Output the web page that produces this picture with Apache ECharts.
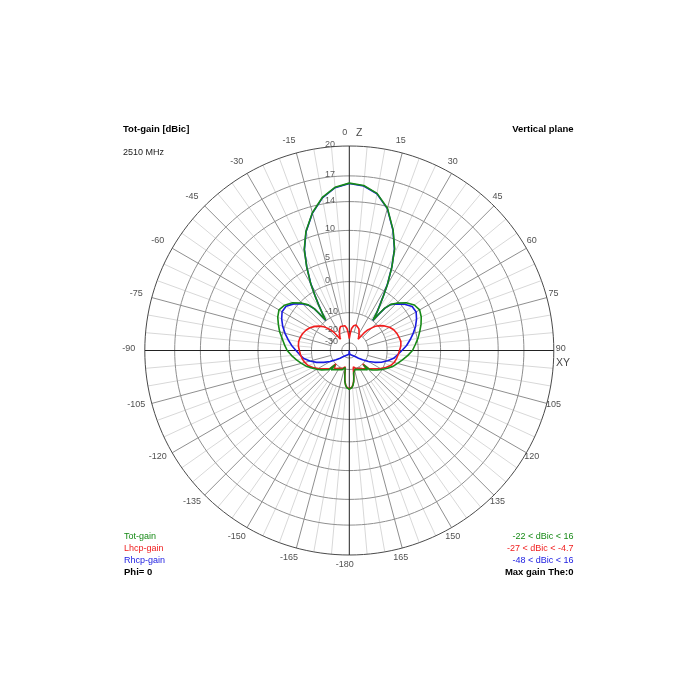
<!DOCTYPE html>
<html>
<head>
<meta charset="utf-8">
<script src="https://cdn.jsdelivr.net/npm/echarts@6/dist/echarts.min.js"></script>
<style>
html,body{margin:0;padding:0;background:#fff;}
#chart{width:700px;height:700px;}
</style>
</head>
<body>
<div id="chart"></div>
<script>
// ---------------- data ----------------
const angleTicks = [-180,-165,-150,-135,-120,-105,-90,-75,-60,-45,-30,-15,0,15,30,45,60,75,90,105,120,135,150,165];
const angleTickLabels = ['-180','-165','-150','-135','-120','-105','-90','-75','-60','-45','-30','-15','0','15','30','45','60','75','90','105','120','135','150','165'];
const ringValues = [20,17,14,10,5,0,-10,-20,-30];
const ringLabels = ['20','17','14','10','5','0','-10','-20','-30'];

const totAngles = [-180,-178,-176,-174,-172,-171,-170,-169,-168,-166,-163,-160,-155,-150,-145,-140,-137,-135,-133,-130,-125,-120,-115,-110,-105,-100,-95,-90,-85,-80,-75,-70,-65,-60,-55,-50,-45,-42,-40,-39,-38,-36,-34,-32,-30,-27,-24,-20,-15,-10,-5,0,5,10,15,20,24,27,30,32,34,36,38,39,40,42,45,50,55,60,65,70,75,80,85,90,95,100,105,110,115,120,125,130,133,135,137,140,145,150,155,160,163,166,168,169,170,171,172,174,176,178,180];
const totGain = [-9.6,-9.8,-10.3,-11.2,-12.8,-14.2,-15.8,-17.5,-19.5,-21.0,
  -19.5,-19.1,-18.6,-18.1,-17.2,-16.3,-15.4,-19.2,-14.6,-13.6,
  -11.8,-10.1,-8.5,-6.9,-5.6,-4.3,-3.0,-1.8,-1.0,-0.2,
  0.8,1.6,2.4,2.9,2.4,1.3,-0.5,-2.0,-4.0,-6.5,
  -9.8,-7.0,-4.0,-1.0,2.0,5.5,8.5,11.0,13.2,14.8,
  15.8,16.2,
  16.0,15.3,13.8,11.2,8.6,5.5,1.8,-1.2,-4.0,-6.5,
  -9.8,-6.5,-3.8,-1.8,-0.5,1.3,2.5,2.9,2.5,1.8,
  1.0,0.2,-0.7,-1.5,-2.8,-4.2,-5.5,-6.7,-8.3,-10.0,
  -11.7,-13.5,-14.6,-19.2,-15.4,-16.3,-17.2,-18.1,-18.6,-19.1,
  -19.5,-21.0,-19.5,-17.5,-15.8,-14.2,-12.8,-11.2,-10.3,-9.8,
  -9.6];

const lhcpAngles = [-180,-178,-176,-174,-172,-171,-170,-169,-168,-166,-163,-160,-155,-150,-145,-140,-137,-135,-133,-130,-125,-120,-115,-110,-105,-100,-95,-90,-85,-80,-75,-70,-65,-60,-55,-51,-47,-45,-42,-40,-38,-35,-32,-28,-24,-20,-15,-10,-6,-3,0,3,6,10,15,20,24,28,32,35,38,40,42,45,47,51,55,60,65,70,75,80,85,90,95,100,105,110,115,120,125,130,133,135,137,140,145,150,155,160,163,166,168,169,170,171,172,174,176,178,180];
const lhcpGain = [-9.8,-10.0,-10.5,-11.4,-13.0,-14.4,-16.0,-17.7,-19.8,-21.5,
  -20.3,-19.9,-19.4,-18.9,-18.0,-17.1,-16.2,-20.0,-15.4,-14.4,
  -12.6,-10.8,-9.0,-7.6,-6.8,-6.2,-5.8,-5.5,-5.1,-5.0,
  -5.2,-5.6,-6.2,-7.0,-8.3,-9.6,-11.3,
  -12.6,-14.8,-17.5,-23.5,-22.0,-20.5,-18.8,-17.0,-15.9,-15.5,-16.2,-18.0,-21.5,
  -25.5,
  -21.5,-18.0,-16.2,-15.5,-15.9,-17.0,-18.8,-20.5,-22.0,-23.5,-17.5,-14.8,-12.6,-11.0,-9.3,
  -8.0,-6.7,-5.8,-5.3,-5.0,-4.7,-4.9,-5.4,-5.8,-6.2,-6.7,-7.6,-9.0,-10.8,-12.6,-14.4,
  -15.4,-20.0,-16.2,-17.1,-18.0,-18.9,-19.4,-19.9,-20.3,-21.5,
  -19.8,-17.7,-16.0,-14.4,-13.0,-11.4,-10.5,-10.0,-9.8];

const rhcpAngles = [-180,-179,-176,-170,-160,-150,-140,-135,-130,-125,-120,-115,-110,-105,-100,-95,-90,-85,-80,-75,-70,-65,-60,-55,-50,-45,-42,-40,-39,-38,-36,-34,-32,-30,-27,-24,-20,-15,-10,-5,0,5,10,15,20,24,27,30,32,34,36,38,39,40,42,45,50,55,60,65,70,75,80,85,90,95,100,105,110,115,120,125,130,135,140,150,160,170,176,179,180];
const rhcpGain = [-48,-38,-35,-34.5,-33.5,-32.5,-30.5,-28.5,-25.5,-22,
  -18,-14.5,-11.3,-8.8,-6.8,-5.6,-4.4,-3.0,-1.8,-0.6,
  0.5,1.4,2.1,2.0,0.9,-0.8,-2.1,-4.1,-6.6,-9.85,
  -7.05,-4.05,-1.05,1.95,5.45,8.45,10.95,13.15,14.75,15.75,
  16.15,
  15.95,15.25,13.75,11.15,8.55,5.45,1.75,-1.25,-4.05,-6.55,
  -9.85,-6.6,-3.9,-1.9,-0.8,0.8,1.9,2.0,1.3,0.4,
  -0.7,-1.9,-3.1,-4.6,-6.0,-7.2,-9.2,-11.6,-14.6,-18.0,
  -22.0,-25.5,-28.5,-30.5,-32.5,-33.5,-34.5,-35,-38,-48];

// ---------------- scale & layout ----------------
// modified logarithmic radial scale used by the plot: dB -> radius fraction (20 dB = outer ring)
function rScale(db){ return Math.max(0, 1.0491*Math.exp(0.05*(db-20)) - 0.0491); }
const CX = 349.3, CY = 350.5, R_OUT = 204.5, RMAX = 1.06;
const LABEL_R = 216/R_OUT;
const SANS = "'Liberation Sans',Arial,sans-serif";
const GREEN = '#178a17', RED = '#f01e1e', BLUE = '#1a1ae0';

function pairs(angles, vals){ return angles.map((a,i)=>[rScale(vals[i]), a]); }
function gridLine(data, color, w, z){
  return {type:'line', coordinateSystem:'polar', data:data, symbol:'none', silent:true,
    animation:false, clip:false, z:z||1, lineStyle:{color:color, width:w||1}};
}

const series = [];
// minor radial lines (every 5 deg)
for (let a=-175; a<=180; a+=5){
  if (a % 15 === 0) continue;
  series.push(gridLine([[rScale(-10), a],[1, a]], '#d8d8d8', 1, 1));
}
// major radial lines (every 15 deg)
angleTicks.forEach(a=>{
  if (a===0 || a===90 || a===-90 || a===-180) return;
  series.push(gridLine([[rScale(-20), a],[1, a]], '#8f8f8f', 1, 2));
});
// rings
ringValues.forEach(v=>{
  const d=[]; for(let a=-180;a<=180;a+=2) d.push([rScale(v), a]);
  series.push(gridLine(d, v===20 ? '#4a4a4a' : '#8f8f8f', 1, v===20?3:2));
});
// main axes
series.push(gridLine([[1,0],[1,180]], '#222', 1, 3));
series.push(gridLine([[1,-90],[1,90]], '#222', 1, 3));

// ring labels
series.push({type:'scatter', coordinateSystem:'polar', silent:true, animation:false, z:6,
  symbolSize:1, itemStyle:{color:'rgba(0,0,0,0)'},
  data: ringValues.map(v=>[rScale(v), 0]),
  label:{show:true, position:'inside', align:'left', verticalAlign:'middle', offset:[-24.3,-1.5],
    formatter:p=>ringLabels[p.dataIndex], color:'#333', fontSize:9, fontFamily:SANS}
});
// angle labels
series.push({type:'scatter', coordinateSystem:'polar', silent:true, animation:false, z:6,
  symbolSize:1, itemStyle:{color:'rgba(0,0,0,0)'},
  data: angleTicks.map(a=>[LABEL_R, a]),
  label:{show:true, position:'inside', align:'center', verticalAlign:'middle', offset:[-4.5,-1.5],
    formatter:p=>angleTickLabels[p.dataIndex], color:'#222', fontSize:9, fontFamily:SANS}
});
// axis names
series.push({type:'scatter', coordinateSystem:'polar', silent:true, animation:false, z:6,
  symbolSize:1, itemStyle:{color:'rgba(0,0,0,0)'},
  data: [[LABEL_R, 0]],
  label:{show:true, position:'inside', align:'center', verticalAlign:'middle', offset:[10,-1.5],
    formatter:'Z', color:'#111', fontSize:10.5, fontFamily:SANS}
});
series.push({type:'scatter', coordinateSystem:'polar', silent:true, animation:false, z:6,
  symbolSize:1, itemStyle:{color:'rgba(0,0,0,0)'},
  data: [[LABEL_R, 90]],
  label:{show:true, position:'inside', align:'center', verticalAlign:'middle', offset:[-2.3,12.2],
    formatter:'XY', color:'#111', fontSize:10.5, fontFamily:SANS}
});

// data curves
function curve(name, angles, vals, color, z){
  return {name:name, type:'line', coordinateSystem:'polar', data:pairs(angles, vals),
    symbol:'none', smooth:false, animation:false, silent:true, clip:false, z:z,
    lineStyle:{color:color, width:1.6}};
}
series.push(curve('Rhcp-gain', rhcpAngles, rhcpGain, BLUE, 10));
series.push(curve('Lhcp-gain', lhcpAngles, lhcpGain, RED, 11));
series.push(curve('Tot-gain', totAngles, totGain, GREEN, 12));

function txt(text, x, y, font, fill, align){
  return {type:'text', x:x, y:y, silent:true, z:20,
    style:{text:text, font:font, fill:fill, align:align||'left', verticalAlign:'middle'}};
}
const BOLD = "bold 9.5px " + SANS;
const NORM = "9px " + SANS;

const chart = echarts.init(document.getElementById('chart'), null, {renderer:'canvas'});
chart.setOption({
  backgroundColor:'#ffffff',
  animation:false,
  polar:{center:[CX, CY], radius: R_OUT*RMAX},
  angleAxis:{type:'value', min:-180, max:180, startAngle:270, clockwise:true, show:false,
    axisLine:{show:false}, axisTick:{show:false}, axisLabel:{show:false}, splitLine:{show:false}},
  radiusAxis:{type:'value', min:0, max:RMAX, show:false,
    axisLine:{show:false}, axisTick:{show:false}, axisLabel:{show:false}, splitLine:{show:false}},
  series: series,
  graphic: [
    txt('Tot-gain [dBic]', 123, 129.5, BOLD, '#000'),
    txt('2510 MHz', 123, 153, NORM, '#222'),
    txt('Vertical plane', 573.5, 129.5, BOLD, '#000', 'right'),
    txt('Tot-gain', 124, 536.7, NORM, GREEN),
    txt('Lhcp-gain', 124, 548.5, NORM, RED),
    txt('Rhcp-gain', 124, 560.8, NORM, BLUE),
    txt('Phi= 0', 124, 572.6, BOLD, '#000'),
    txt('-22 < dBic < 16', 573.5, 536.7, NORM, GREEN, 'right'),
    txt('-27 < dBic < -4.7', 573.5, 548.5, NORM, RED, 'right'),
    txt('-48 < dBic < 16', 573.5, 560.8, NORM, BLUE, 'right'),
    txt('Max gain The:0', 573.5, 572.6, BOLD, '#000', 'right')
  ]
});
</script>
</body>
</html>
